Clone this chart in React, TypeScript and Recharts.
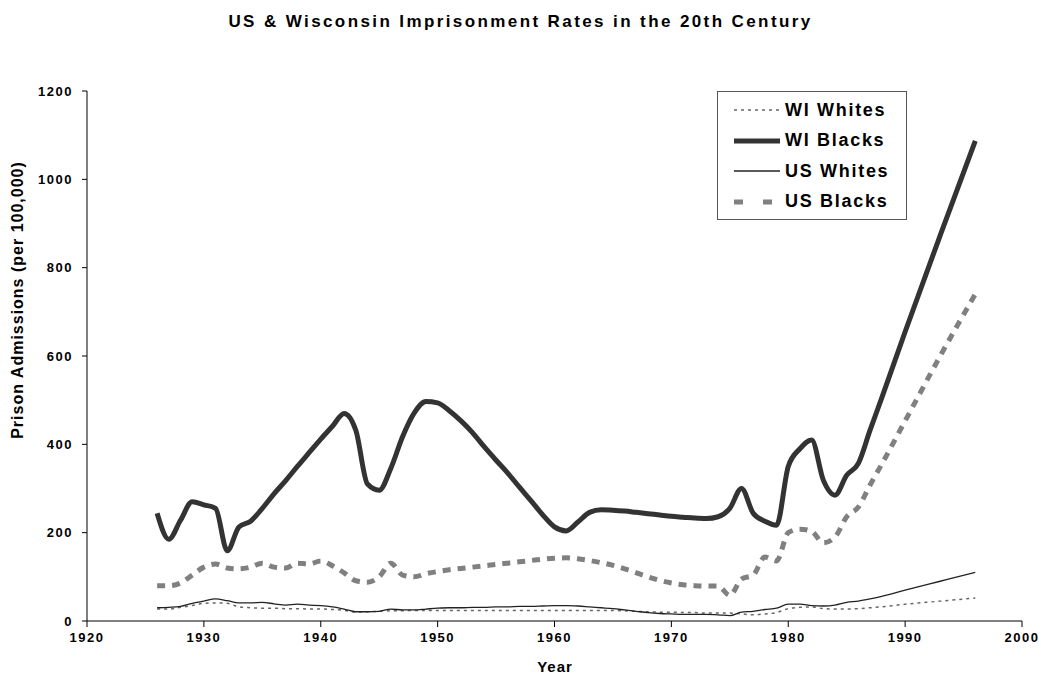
import { LineChart, Line, XAxis, YAxis } from 'recharts';

// years: annual 1926-1987, then a few points on the straight run to 1996
const years = [
  1926, 1927, 1928, 1929, 1930, 1931, 1932, 1933, 1934, 1935,
  1936, 1937, 1938, 1939, 1940, 1941, 1942, 1943, 1944, 1945,
  1946, 1947, 1948, 1949, 1950, 1951, 1952, 1953, 1954, 1955,
  1956, 1957, 1958, 1959, 1960, 1961, 1962, 1963, 1964, 1965,
  1966, 1967, 1968, 1969, 1970, 1971, 1972, 1973, 1974, 1975,
  1976, 1977, 1978, 1979, 1980, 1981, 1982, 1983, 1984, 1985,
  1986, 1987, 1988, 1990, 1993, 1996,
];

const wiWhites = [
  27, 27, 31, 35, 40, 41, 40, 32, 30, 29,
  29, 28, 28, 27, 27, 26, 24, 20, 21, 22,
  23, 23, 24, 24, 24, 24, 24, 24, 24, 24,
  24, 24, 24, 24, 24, 24, 24, 24, 24, 24,
  23, 22, 21, 20, 20, 19, 19, 18, 18, 18,
  16, 14, 16, 19, 28, 31, 32, 28, 27, 27,
  28, 30, 32, 38, 45, 52,
];

const wiBlacks = [
  244, 185, 228, 270, 263, 255, 159, 213, 226, 255,
  288, 318, 350, 381, 412, 441, 470, 432, 310, 296,
  346, 417, 471, 497, 494, 476, 453, 426, 394, 364,
  335, 303, 272, 240, 213, 204, 224, 246, 252, 251,
  249, 246, 243, 240, 237, 235, 233, 232, 236, 255,
  300, 244, 226, 217, 350, 390, 410, 319, 285, 330,
  357, 432, 505, 655, 873, 1087,
];

const usWhites = [
  30, 31, 33, 40, 45, 50, 46, 41, 41, 42,
  39, 36, 38, 36, 35, 32, 27, 21, 21, 22,
  27, 25, 25, 27, 29, 30, 30, 31, 31, 32,
  32, 33, 33, 34, 35, 35, 34, 32, 30, 28,
  25, 22, 19, 17, 16, 15, 15, 15, 14, 12,
  20, 22, 26, 29, 38, 38, 35, 34, 36, 42,
  45, 50, 56, 70, 90, 110,
];

const usBlacks = [
  80, 80, 86, 104, 122, 129, 120, 118, 122, 131,
  122, 120, 131, 129, 136, 125, 109, 91, 88, 100,
  131, 104, 100, 107, 112, 116, 119, 122, 125, 128,
  131, 134, 137, 140, 142, 143, 141, 137, 132, 126,
  118, 109, 100, 92, 86, 82, 80, 79, 79, 58,
  95, 104, 145, 136, 200, 208, 203, 177, 190, 236,
  258, 308, 355, 453, 600, 740,
];

const xTicks = [1920, 1930, 1940, 1950, 1960, 1970, 1980, 1990, 2000];
const yTicks = [0, 200, 400, 600, 800, 1000, 1200];

const data = years.map((year, i) => ({
  year,
  wiWhites: wiWhites[i],
  wiBlacks: wiBlacks[i],
  usWhites: usWhites[i],
  usBlacks: usBlacks[i],
}));

const FONT = '"Liberation Sans", Arial, sans-serif';

const series = [
  { key: 'wiWhites', name: 'WI Whites', color: '#666666', width: 1.5, dash: '3 4', legendDash: '3 4' },
  { key: 'wiBlacks', name: 'WI Blacks', color: '#333333', width: 5, dash: undefined, legendDash: undefined },
  { key: 'usWhites', name: 'US Whites', color: '#222222', width: 1.3, dash: undefined, legendDash: undefined },
  { key: 'usBlacks', name: 'US Blacks', color: '#808080', width: 5, dash: '8 7', legendDash: '9 20' },
];

const tickStyle = { fontFamily: FONT, fontWeight: 'bold', fontSize: 13, letterSpacing: 1.5, fill: '#000' };

// legend box sits over the top right of the plot, like the Excel original
const ChartLegend = () => (
  <div
    style={{
      position: 'absolute',
      left: 717,
      top: 91,
      width: 188,
      height: 124,
      paddingTop: 3,
      border: '1px solid #555',
      background: '#fff',
    }}
  >
    {series.map((s) => (
      <div key={s.key} style={{ display: 'flex', alignItems: 'center', height: 30.5 }}>
        <svg width={50} height={10} style={{ marginLeft: 14 }}>
          <line x1={2} x2={48} y1={5} y2={5} stroke={s.color} strokeWidth={s.width} strokeDasharray={s.legendDash} />
        </svg>
        <span
          style={{
            fontFamily: FONT,
            fontWeight: 'bold',
            fontSize: 18,
            letterSpacing: 1.7,
            color: '#000',
            marginLeft: 3,
          }}
        >
          {s.name}
        </span>
      </div>
    ))}
  </div>
);

export default function App() {
  return (
    <div style={{ position: 'absolute', left: 0, top: 0, width: 1041, height: 688, background: '#fff' }}>
      <LineChart width={1041} height={688} data={data} margin={{ top: 91, right: 19, bottom: 27, left: 27 }}>
        <XAxis
          dataKey="year"
          type="number"
          domain={[1920, 2000]}
          ticks={xTicks}
          height={40}
          tickSize={6}
          tickMargin={6}
          stroke="#000"
          tick={tickStyle}
          axisLine={{ stroke: '#000' }}
          tickLine={{ stroke: '#000' }}
        />
        <YAxis
          type="number"
          domain={[0, 1200]}
          ticks={yTicks}
          width={60}
          tickSize={5}
          tickMargin={9}
          stroke="#000"
          tick={tickStyle}
          axisLine={{ stroke: '#000' }}
          tickLine={{ stroke: '#000' }}
        />
        {series.map((s) => (
          <Line
            key={s.key}
            type="monotone"
            dataKey={s.key}
            name={s.name}
            stroke={s.color}
            strokeWidth={s.width}
            strokeDasharray={s.dash}
            dot={false}
            activeDot={false}
            isAnimationActive={false}
          />
        ))}
      </LineChart>
      <div
        style={{
          position: 'absolute',
          left: 0,
          width: 1041,
          top: 12,
          textAlign: 'center',
          fontFamily: FONT,
          fontWeight: 'bold',
          fontSize: 17,
          letterSpacing: 2.4,
          color: '#000',
        }}
      >
        US &amp; Wisconsin Imprisonment Rates in the 20th Century
      </div>
      <div
        style={{
          position: 'absolute',
          left: 18,
          top: 300,
          transform: 'translate(-50%, -50%) rotate(-90deg)',
          whiteSpace: 'nowrap',
          fontFamily: FONT,
          fontWeight: 'bold',
          fontSize: 16,
          letterSpacing: 1,
          color: '#000',
        }}
      >
        Prison Admissions (per 100,000)
      </div>
      <div
        style={{
          position: 'absolute',
          left: 555,
          top: 666,
          transform: 'translate(-50%, -50%)',
          fontFamily: FONT,
          fontWeight: 'bold',
          fontSize: 15,
          letterSpacing: 1,
          color: '#000',
        }}
      >
        Year
      </div>
      <ChartLegend />
    </div>
  );
}
